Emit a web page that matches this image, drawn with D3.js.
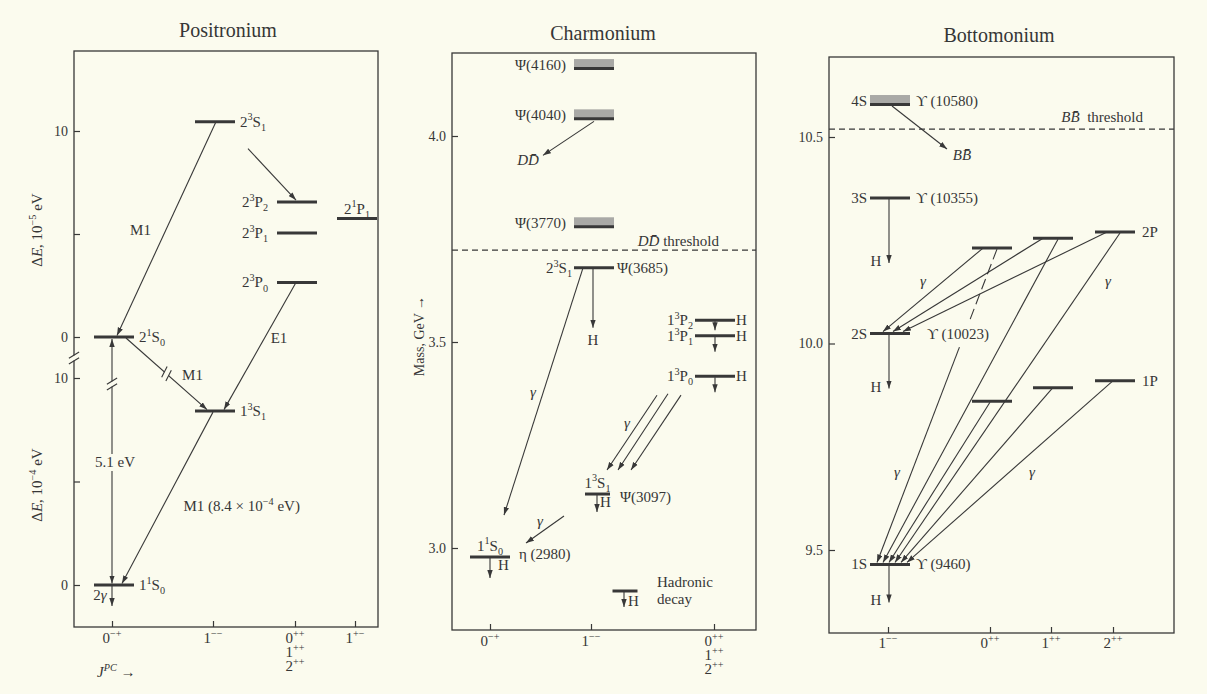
<!DOCTYPE html>
<html>
<head>
<meta charset="utf-8">
<title>Positronium, charmonium and bottomonium levels</title>
<script src="https://cdn.jsdelivr.net/npm/d3@7/dist/d3.min.js"></script>
<style>
  body { margin: 0; background: #fbfbee; }
  svg text { font-family: "Liberation Serif", "DejaVu Serif", serif; fill: #363636; }
</style>
</head>
<body>
<svg width="1207" height="694"></svg>
<script>
// ---------------- data ----------------

// Positronium: n=2 block in units of 1e-5 eV, n=1 block in units of 1e-4 eV
var posJpc = ['0-+', '1--', '0++', '1+-'];
var posJpcText = [[['0', '−+']], [['1', '−−']], [['0', '++'], ['1', '++'], ['2', '++']], [['1', '+−']]];
var posTicks = [0, 5, 10];
var posLevelsN2 = [
  {id: '21S0', n: 2, s: 1, L: 'S', j: 0, jpc: '0-+', e: 0},
  {id: '23S1', n: 2, s: 3, L: 'S', j: 1, jpc: '1--', e: 10.45},
  {id: '23P2', n: 2, s: 3, L: 'P', j: 2, jpc: '0++', e: 6.55},
  {id: '23P1', n: 2, s: 3, L: 'P', j: 1, jpc: '0++', e: 5.05},
  {id: '23P0', n: 2, s: 3, L: 'P', j: 0, jpc: '0++', e: 2.65},
  {id: '21P1', n: 2, s: 1, L: 'P', j: 1, jpc: '1+-', e: 5.75}
];
var posLevelsN1 = [
  {id: '13S1', n: 1, s: 3, L: 'S', j: 1, jpc: '1--', e: 8.4},
  {id: '11S0', n: 1, s: 1, L: 'S', j: 0, jpc: '0-+', e: 0}
];
var posTransitions = [
  {from: '23S1', to: '21S0', label: [{t: 'M1'}]},
  {from: '23S1', to: '23P2', label: null},
  {from: '23P0', to: '13S1', label: [{t: 'E1'}]},
  {from: '21S0', to: '13S1', label: [{t: 'M1'}], broken: true},
  {from: '13S1', to: '11S0', label: [{t: 'M1 (8.4 × 10'}, {t: '−4', sup: true}, {t: ' eV)'}]}
];
var posGapLabel = '5.1 eV';

// Charmonium: masses in GeV
var chJpc = ['0-+', '1--', 'P'];
var chJpcText = [[['0', '−+']], [['1', '−−']], [['0', '++'], ['1', '++'], ['2', '++']]];
var chTicks = [3.0, 3.5, 4.0];
var chBroad = [
  {name: 'Ψ(4160)', jpc: '1--', m: 4.160},
  {name: 'Ψ(4040)', jpc: '1--', m: 4.038},
  {name: 'Ψ(3770)', jpc: '1--', m: 3.776}
];
var chThreshold = 3.723;
var chLevels = [
  {id: '23S1', n: 2, s: 3, L: 'S', j: 1, jpc: '1--', m: 3.680, name: 'Ψ(3685)'},
  {id: '13P2', n: 1, s: 3, L: 'P', j: 2, jpc: 'P', m: 3.553, name: ''},
  {id: '13P1', n: 1, s: 3, L: 'P', j: 1, jpc: 'P', m: 3.515, name: ''},
  {id: '13P0', n: 1, s: 3, L: 'P', j: 0, jpc: 'P', m: 3.417, name: ''},
  {id: '13S1', n: 1, s: 3, L: 'S', j: 1, jpc: '1--', m: 3.131, name: 'Ψ(3097)'},
  {id: '11S0', n: 1, s: 1, L: 'S', j: 0, jpc: '0-+', m: 2.978, name: 'η (2980)'}
];
var chTransitions = [
  {from: '23S1', to: '11S0', label: 'γ'},
  {from: '13P0', to: '13S1', label: ''},
  {from: '13P1', to: '13S1', label: 'γ'},
  {from: '13P2', to: '13S1', label: ''},
  {from: '13S1', to: '11S0', label: 'γ'}
];
var chHadronic = ['23S1', '13P2', '13P1', '13P0', '13S1', '11S0'];

// Bottomonium: masses in GeV
var bJpc = ['1--', '0++', '1++', '2++'];
var bJpcText = [[['1', '−−']], [['0', '++']], [['1', '++']], [['2', '++']]];
var bTicks = [9.5, 10.0, 10.5];
var bSLevels = [
  {id: '4S', m: 10.575, name: 'ϒ (10580)', broad: true},
  {id: '3S', m: 10.352, name: 'ϒ (10355)'},
  {id: '2S', m: 10.024, name: 'ϒ (10023)'},
  {id: '1S', m: 9.465, name: 'ϒ (9460)'}
];
var bPLevels = [
  {id: '2P0', jpc: '0++', m: 10.231},
  {id: '2P1', jpc: '1++', m: 10.255},
  {id: '2P2', jpc: '2++', m: 10.270},
  {id: '1P0', jpc: '0++', m: 9.860},
  {id: '1P1', jpc: '1++', m: 9.893},
  {id: '1P2', jpc: '2++', m: 9.910}
];
var bPNames = [{text: '2P', at: '2P2'}, {text: '1P', at: '1P2'}];
var bThreshold = 10.519;
var bTransitions = [
  {from: '2P0', to: '2S'}, {from: '2P1', to: '2S'}, {from: '2P2', to: '2S'},
  {from: '2P0', to: '1S', dashed: true}, {from: '2P1', to: '1S'}, {from: '1P0', to: '1S'},
  {from: '2P2', to: '1S'}, {from: '1P1', to: '1S'}, {from: '1P2', to: '1S'}
];
var bHadronic = ['3S', '2S', '1S'];

// ---------------- layout (pixel offsets) ----------------
var posLabelSide = {'21S0': 'right', '23S1': 'right', '23P2': 'left', '23P1': 'left', '23P0': 'left',
  '21P1': 'above', '13S1': 'right', '11S0': 'right'};
// [fromDx, fromDy, toDx, toDy, labelDx, labelDy, anchor]
var posTransLayout = [
  [1, 0, 3, -1.5, -26, 6, 'middle'],
  [33, 27, -1, -2, 0, 0, 'middle'],
  [-1, 0, 9, -1.5, 19, -3, 'middle'],
  [12, 1, -8, -1.5, 26, 6, 'middle'],
  [-2, 1, 8, -1.5, 16, 13, 'start']
];
var chLayout = {
  '23S1': {dx: 3, w: 40, spec: 'left', nameDx: 23, nameDy: 5},
  '13P2': {dx: 1, w: 40, spec: 'left'},
  '13P1': {dx: 1, w: 40, spec: 'left'},
  '13P0': {dx: 1, w: 40, spec: 'left'},
  '13S1': {dx: 6.5, w: 25, spec: 'above', nameDx: 22.5, nameDy: 8},
  '11S0': {dx: 0, w: 40, spec: 'above', nameDx: 29, nameDy: 2}
};
var chHLayout = {
  '23S1': {dx: -1, len: 60, hx: 0, hy: 17, anchor: 'middle'},
  '13P2': {dx: 0, len: 10, hx: 21, hy: 5, anchor: 'start', atBar: true},
  '13P1': {dx: 0, len: 16, hx: 21, hy: 5, anchor: 'start', atBar: true},
  '13P0': {dx: 0, len: 16, hx: 21, hy: 5, anchor: 'start', atBar: true},
  '13S1': {dx: -0.5, len: 18, hx: 3, hy: 13, anchor: 'start', atBar: true},
  '11S0': {dx: 0, len: 21, hx: 8, hy: 13, anchor: 'start', atBar: true}
};
var chTransLayout = [
  [-11, 0, 14, -42, -10.5, 5.5],
  [-58, 19, 9.5, -24, 0, 0],
  [-47, 58, 20.5, -24, -16, -4],
  [-34, 75, 33.5, -24, 0, 0],
  [-33.5, 22, 36, -14, -5, -3.5]
];
var bTransLayout = [
  [-9, 0, -7, -2], [-10, 0, 3, -2], [-8, 0, 13, -2],
  [5, 1, -13, -2], [5, 1, -7, -2], [-2, 1, -1, -2],
  [5, 1, 5, -2], [-1, 1, 11, -2], [-3, 1, 17, -2]
];
var bGammaLayout = [['2S', 33, -48], ['2P2', -7, 54], ['1S', 7, -87], ['1S', 142, -87]];
var bHLayout = {'3S': 65, '2S': 55, '1S': 38};

// ---------------- helpers ----------------
var bg = '#fbfbee', ink = '#383838';
var svg = d3.select('svg');
svg.append('rect').attr('width', 1207).attr('height', 694).attr('fill', bg);
svg.append('defs').append('marker')
  .attr('id', 'ah').attr('viewBox', '0 -3 8 6').attr('refX', 8).attr('refY', 0)
  .attr('markerWidth', 8).attr('markerHeight', 6).attr('markerUnits', 'userSpaceOnUse')
  .attr('orient', 'auto-start-reverse')
  .append('path').attr('d', 'M0,-2.7L8,0L0,2.7Z').attr('fill', ink);

function rich(g, x, y, anchor, size, parts) {
  var t = g.append('text').attr('x', x).attr('y', y).attr('text-anchor', anchor).attr('font-size', size);
  var cur = 0;
  parts.forEach(function (p) {
    var off = p.sup ? -0.42 * size : (p.sub ? 0.28 * size : 0);
    var s = t.append('tspan').attr('dy', off - cur).text(p.t);
    if (p.sup || p.sub) s.attr('font-size', 0.68 * size);
    if (p.it) s.attr('font-style', 'italic');
    cur = off;
  });
  return t;
}
function specParts(d) { return [{t: d.n}, {t: d.s, sup: true}, {t: d.L}, {t: d.j, sub: true}]; }
function frame(g, x0, y0, x1, y1) {
  g.append('rect').attr('x', x0).attr('y', y0).attr('width', x1 - x0).attr('height', y1 - y0)
    .attr('fill', 'none').attr('stroke', ink).attr('stroke-width', 1.3);
}
function title(g, x, y, s) {
  g.append('text').attr('x', x).attr('y', y).attr('text-anchor', 'middle').attr('font-size', 20).text(s);
}
function bar(g, cx, y, w) {
  g.append('line').attr('x1', cx - w / 2).attr('x2', cx + w / 2).attr('y1', y).attr('y2', y)
    .attr('stroke', ink).attr('stroke-width', 3);
}
function broadBar(g, cx, y, w) {
  g.append('rect').attr('x', cx - w / 2).attr('y', y - 11).attr('width', w).attr('height', 10).attr('fill', '#a9a9a6');
  bar(g, cx, y - 1.5, w);
}
function arrow(g, x1, y1, x2, y2, both) {
  var l = g.append('line').attr('x1', x1).attr('y1', y1).attr('x2', x2).attr('y2', y2)
    .attr('stroke', ink).attr('stroke-width', 1.1).attr('marker-end', 'url(#ah)');
  if (both) l.attr('marker-start', 'url(#ah)');
  return l;
}
function plain(g, x1, y1, x2, y2) {
  return g.append('line').attr('x1', x1).attr('y1', y1).attr('x2', x2).attr('y2', y2)
    .attr('stroke', ink).attr('stroke-width', 1.1);
}
function yAxis(g, scale, x, ticks, fmt) {
  var a = g.append('g').attr('transform', 'translate(' + x + ',0)')
    .call(d3.axisLeft(scale).tickValues(ticks).tickSize(-6).tickSizeOuter(0).tickPadding(6).tickFormat(fmt));
  a.select('.domain').remove();
  a.selectAll('text').attr('font-size', 14);
  a.selectAll('line').attr('stroke', ink).attr('stroke-width', 1.2);
}
function xAxis(g, scale, y, texts, baseY, lead) {
  var a = g.append('g').attr('transform', 'translate(0,' + y + ')')
    .call(d3.axisBottom(scale).tickSize(-6).tickSizeOuter(0).tickFormat(''));
  a.select('.domain').remove();
  a.selectAll('line').attr('stroke', ink).attr('stroke-width', 1.2);
  scale.domain().forEach(function (c, i) {
    texts[i].forEach(function (line, k) {
      rich(g, scale(c), baseY + k * lead, 'middle', 15, [{t: line[0]}, {t: line[1], sup: true}]);
    });
  });
}
function vTitle(g, x, y, size, parts) {
  var h = g.append('g').attr('transform', 'translate(' + x + ',' + y + ') rotate(-90)');
  rich(h, 0, 0, 'middle', size, parts);
}
function breakMark(g, cx, cy, lineAng, slashAng) {
  var ux = Math.cos(lineAng), uy = Math.sin(lineAng);
  var sx = Math.cos(slashAng) * 6, sy = Math.sin(slashAng) * 6;
  g.append('line').attr('x1', cx - ux * 2.6).attr('y1', cy - uy * 2.6).attr('x2', cx + ux * 2.6).attr('y2', cy + uy * 2.6)
    .attr('stroke', bg).attr('stroke-width', 5);
  [-2.8, 2.8].forEach(function (o) {
    var px = cx + ux * o, py = cy + uy * o;
    g.append('line').attr('x1', px - sx).attr('y1', py - sy).attr('x2', px + sx).attr('y2', py + sy)
      .attr('stroke', ink).attr('stroke-width', 1.1);
  });
}

// ---------------- Positronium ----------------
var gP = svg.append('g');
var pX = d3.scaleOrdinal().domain(posJpc).range([112, 213, 295, 355]);
var pYn2 = d3.scaleLinear().domain([0, 10]).range([337, 131]);
var pYn1 = d3.scaleLinear().domain([0, 10]).range([585, 378]);

frame(gP, 74, 51, 378, 627);
title(gP, 228, 37, 'Positronium');
yAxis(gP, pYn2, 74, posTicks, function (d) { return d === 5 ? '' : d; });
yAxis(gP, pYn1, 74, posTicks, function (d) { return d === 5 ? '' : d; });
xAxis(gP, pX, 627, posJpcText, 643, 14);
breakMark(gP, 74, 358, Math.PI / 2, -0.55);
vTitle(gP, 42, 230, 15, [{t: 'Δ'}, {t: 'E', it: true}, {t: ', 10'}, {t: '−5', sup: true}, {t: ' eV'}]);
vTitle(gP, 42, 485, 15, [{t: 'Δ'}, {t: 'E', it: true}, {t: ', 10'}, {t: '−4', sup: true}, {t: ' eV'}]);
rich(gP, 97, 677, 'start', 15, [{t: 'J', it: true}, {t: 'PC', sup: true, it: true}, {t: ' →'}]);

var pPt = {};
posLevelsN2.forEach(function (d) { pPt[d.id] = {x: pX(d.jpc) + 2, y: pYn2(d.e)}; });
posLevelsN1.forEach(function (d) { pPt[d.id] = {x: pX(d.jpc) + 2, y: pYn1(d.e)}; });

posLevelsN2.concat(posLevelsN1).forEach(function (d) {
  var p = pPt[d.id], side = posLabelSide[d.id];
  bar(gP, p.x, p.y, 40);
  if (side === 'right') rich(gP, p.x + 25, p.y + 5, 'start', 15, specParts(d));
  else if (side === 'left') rich(gP, p.x - 29, p.y + 5, 'end', 15, specParts(d));
  else rich(gP, p.x, p.y - 5, 'middle', 15, specParts(d));
});

posTransitions.forEach(function (t, i) {
  var L = posTransLayout[i], a = pPt[t.from], b = pPt[t.to];
  var x1 = a.x + L[0], y1 = a.y + L[1], x2 = b.x + L[2], y2 = b.y + L[3];
  arrow(gP, x1, y1, x2, y2);
  var mx = (x1 + x2) / 2, my = (y1 + y2) / 2;
  if (t.broken) breakMark(gP, mx, my, Math.atan2(y2 - y1, x2 - x1), -1.1);
  if (t.label) rich(gP, mx + L[4], my + L[5], L[6], 15, t.label);
});

// 2S-1S gap (5.1 eV) and two-photon decay of the ground state
var gapX = pPt['11S0'].x - 2;
arrow(gP, gapX, pPt['21S0'].y + 2, gapX, pPt['11S0'].y - 1.5, true);
gP.append('rect').attr('x', gapX - 18).attr('y', 454).attr('width', 38).attr('height', 17).attr('fill', bg);
gP.append('text').attr('x', gapX + 3).attr('y', 467).attr('text-anchor', 'middle').attr('font-size', 15).text(posGapLabel);
breakMark(gP, gapX, 384, Math.PI / 2, -0.55);
arrow(gP, gapX, pPt['11S0'].y + 1, gapX, pPt['11S0'].y + 21);
rich(gP, gapX - 12, pPt['11S0'].y + 15, 'middle', 15, [{t: '2'}, {t: 'γ', it: true}]);

// ---------------- Charmonium ----------------
var gC = svg.append('g');
var cX = d3.scaleOrdinal().domain(chJpc).range([490, 591, 714]);
var cY = d3.scaleLinear().domain([3.0, 4.0]).range([548, 136]);

frame(gC, 452, 53, 756, 630);
title(gC, 603, 40, 'Charmonium');
yAxis(gC, cY, 452, chTicks, d3.format('.1f'));
xAxis(gC, cX, 630, chJpcText, 646, 14);
vTitle(gC, 424, 336, 14, [{t: 'Mass, GeV →'}]);

var cThY = cY(chThreshold);
gC.append('line').attr('x1', 452).attr('x2', 756).attr('y1', cThY).attr('y2', cThY)
  .attr('stroke', ink).attr('stroke-width', 1.2).attr('stroke-dasharray', '6,4');
rich(gC, 719, cThY - 4, 'end', 15, [{t: 'DD\u0304', it: true}, {t: ' threshold'}]);

var cPt = {};
chBroad.forEach(function (d) {
  var x = cX(d.jpc) + 3, y = cY(d.m);
  cPt[d.name] = {x: x, y: y};
  broadBar(gC, x, y, 40);
  gC.append('text').attr('x', x - 28).attr('y', y).attr('text-anchor', 'end').attr('font-size', 15).text(d.name);
});
// Psi(4040) -> D Dbar
var p40 = cPt['Ψ(4040)'];
arrow(gC, p40.x, p40.y + 1, p40.x - 51, p40.y + 35);
rich(gC, p40.x - 66, p40.y + 45, 'middle', 15, [{t: 'DD\u0304', it: true}]);

chLevels.forEach(function (d) {
  var L = chLayout[d.id], x = cX(d.jpc) + L.dx, y = cY(d.m);
  cPt[d.id] = {x: x, y: y};
  bar(gC, x, y, L.w);
  if (L.spec === 'left') rich(gC, x - L.w / 2 - 2, y + 5, 'end', 15, specParts(d));
  else rich(gC, x, y - 6.5, 'middle', 15, specParts(d));
  if (d.name) gC.append('text').attr('x', x + L.nameDx).attr('y', y + L.nameDy).attr('font-size', 15).text(d.name);
});

chHadronic.forEach(function (id) {
  var H = chHLayout[id], p = cPt[id], x = p.x + H.dx;
  arrow(gC, x, p.y + 1, x, p.y + H.len);
  var hx = H.anchor === 'middle' ? x : (H.atBar && H.hx > 15 ? p.x + H.hx : x + H.hx);
  var hy = H.anchor === 'middle' ? p.y + H.len + H.hy : p.y + H.hy;
  gC.append('text').attr('x', hx).attr('y', hy).attr('text-anchor', H.anchor).attr('font-size', 15).text('H');
});

chTransitions.forEach(function (t, i) {
  var L = chTransLayout[i], a = cPt[t.from], b = cPt[t.to];
  var x1 = a.x + L[0], y1 = a.y + L[1], x2 = b.x + L[2], y2 = b.y + L[3];
  arrow(gC, x1, y1, x2, y2);
  if (t.label) rich(gC, (x1 + x2) / 2 + L[4], (y1 + y2) / 2 + L[5], 'middle', 15, [{t: t.label, it: true}]);
});

// legend: hadronic decay
bar(gC, 625, 591, 25);
arrow(gC, 624, 592, 624, 607);
gC.append('text').attr('x', 628).attr('y', 606).attr('font-size', 15).text('H');
gC.append('text').attr('x', 657).attr('y', 587).attr('font-size', 15).text('Hadronic');
gC.append('text').attr('x', 657).attr('y', 604).attr('font-size', 15).text('decay');

// ---------------- Bottomonium ----------------
var gB = svg.append('g');
var bX = d3.scaleOrdinal().domain(bJpc).range([888, 990, 1051, 1113]);
var bY = d3.scaleLinear().domain([9.5, 10.5]).range([550, 137]);

frame(gB, 829, 57, 1174, 633);
title(gB, 999, 42, 'Bottomonium');
yAxis(gB, bY, 829, bTicks, d3.format('.1f'));
xAxis(gB, bX, 633, bJpcText, 648, 14);

var bThY = bY(bThreshold);
gB.append('line').attr('x1', 829).attr('x2', 1174).attr('y1', bThY).attr('y2', bThY)
  .attr('stroke', ink).attr('stroke-width', 1.2).attr('stroke-dasharray', '6,4');
rich(gB, 1143, bThY - 7, 'end', 15, [{t: 'BB\u0304', it: true}, {t: '\u00a0 threshold'}]);

var bPt = {};
bSLevels.forEach(function (d) {
  var x = bX('1--') + 2, y = bY(d.m);
  bPt[d.id] = {x: x, y: y};
  if (d.broad) broadBar(gB, x, y, 40); else bar(gB, x, y, 40);
  var ty = d.broad ? y : y + 5;
  gB.append('text').attr('x', x - 23).attr('y', ty).attr('text-anchor', 'end').attr('font-size', 15).text(d.id);
  gB.append('text').attr('x', x + (d.id === '2S' ? 37 : 26)).attr('y', ty).attr('font-size', 15).text(d.name);
});
bPLevels.forEach(function (d) {
  var x = bX(d.jpc) + 2, y = bY(d.m);
  bPt[d.id] = {x: x, y: y};
  bar(gB, x, y, 40);
});
bPNames.forEach(function (d) {
  var p = bPt[d.at];
  gB.append('text').attr('x', p.x + 27).attr('y', p.y + 5).attr('font-size', 15).text(d.text);
});

// 4S -> B Bbar
var p4 = bPt['4S'];
arrow(gB, p4.x + 2, p4.y, p4.x + 57, p4.y + 43);
rich(gB, p4.x + 72, p4.y + 54, 'middle', 15, [{t: 'BB\u0304', it: true}]);

bHadronic.forEach(function (id) {
  var p = bPt[id], len = bHLayout[id];
  arrow(gB, p.x - 1, p.y + 1, p.x - 1, p.y + len);
  gB.append('text').attr('x', p.x - 14).attr('y', p.y + len + 3).attr('text-anchor', 'middle').attr('font-size', 15).text('H');
});

bTransitions.forEach(function (t, i) {
  var L = bTransLayout[i], a = bPt[t.from], b = bPt[t.to];
  var x1 = a.x + L[0], y1 = a.y + L[1], x2 = b.x + L[2], y2 = b.y + L[3];
  if (t.dashed) {
    var f = function (k) { return [x1 + (x2 - x1) * k, y1 + (y2 - y1) * k]; };
    var p1 = f(0.226), p2 = f(0.313);
    plain(gB, x1, y1, p1[0], p1[1]).attr('stroke-dasharray', '11,5');
    arrow(gB, p2[0], p2[1], x2, y2);
  } else {
    arrow(gB, x1, y1, x2, y2);
  }
});

bGammaLayout.forEach(function (g) {
  var p = bPt[g[0]];
  rich(gB, p.x + g[1], p.y + g[2], 'middle', 15, [{t: 'γ', it: true}]);
});
</script>
</body>
</html>
